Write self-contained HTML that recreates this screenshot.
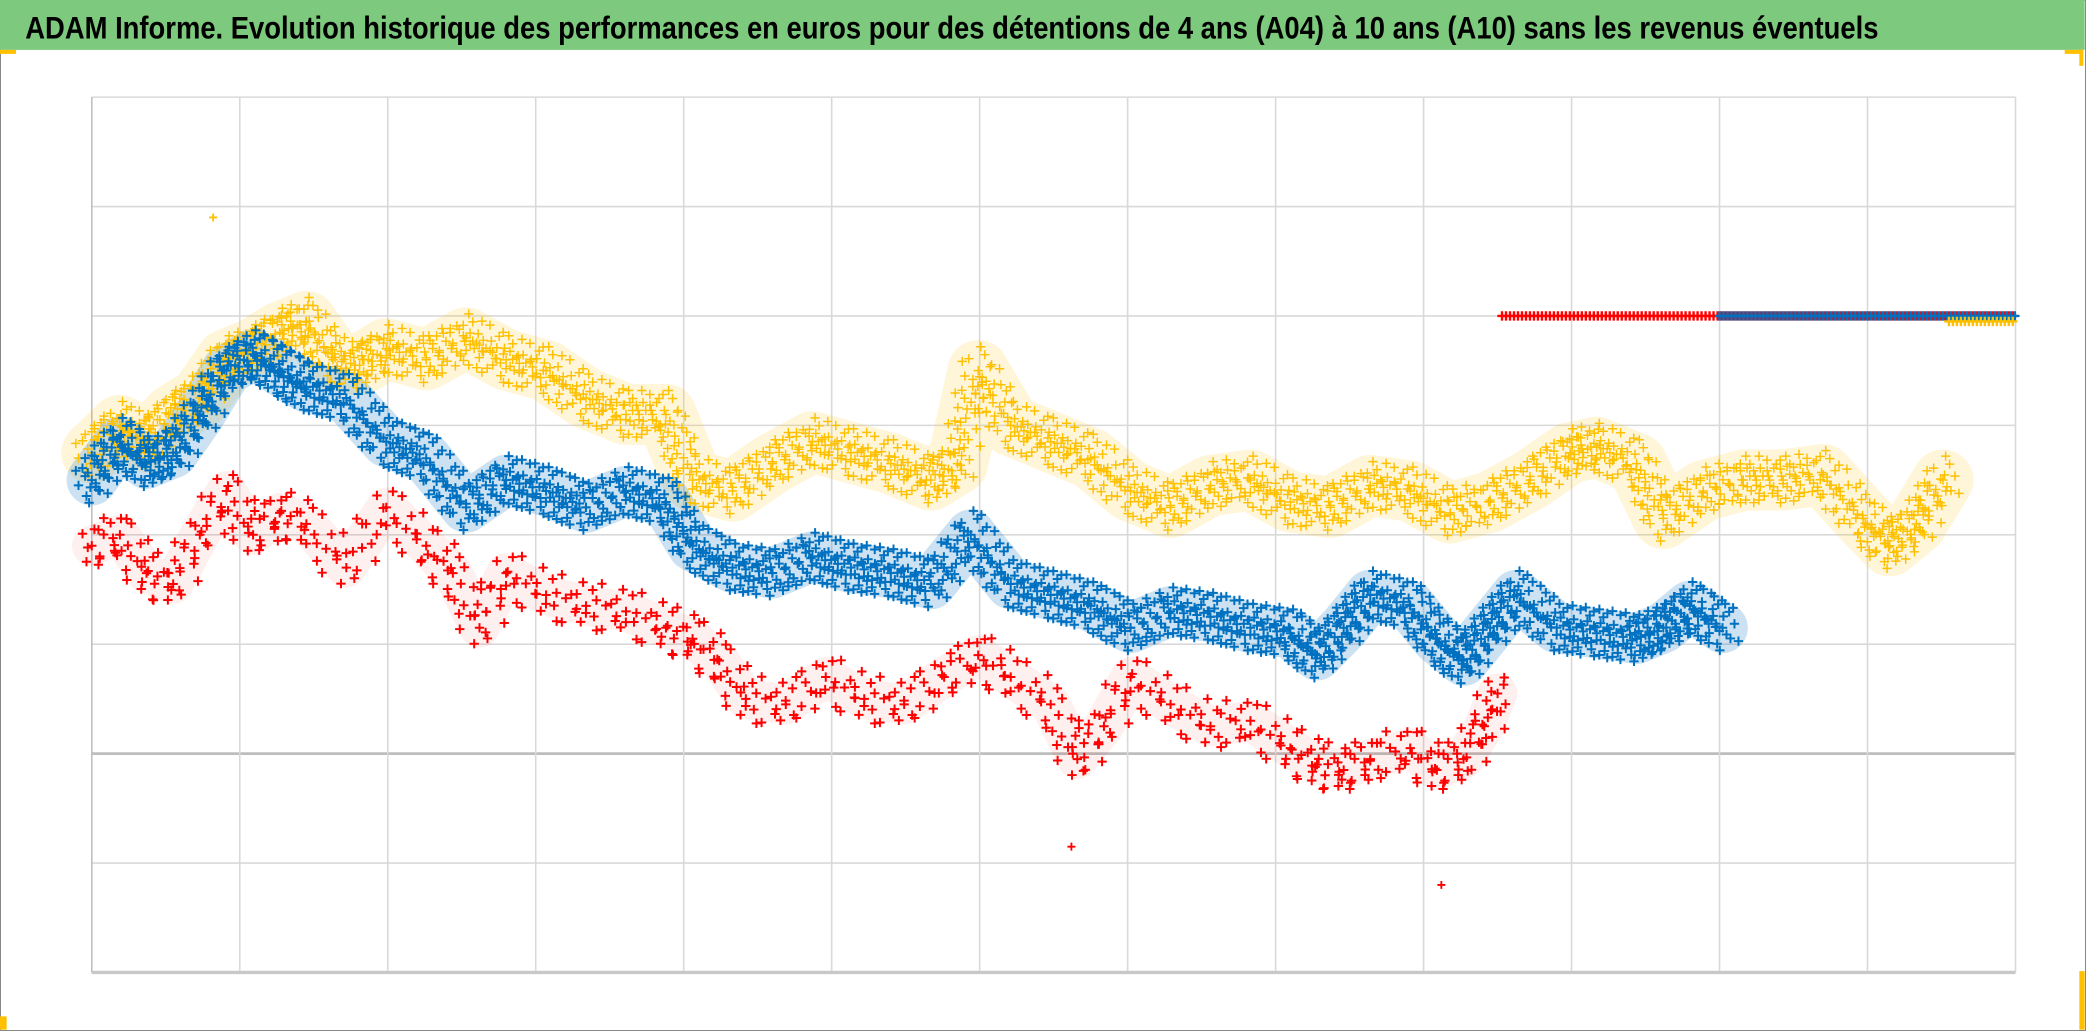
<!DOCTYPE html>
<html><head><meta charset="utf-8"><style>
html,body{margin:0;padding:0;background:#fff;}
svg{display:block;}
</style></head><body>
<svg id="chart" width="2086" height="1031" viewBox="0 0 1568 775" preserveAspectRatio="none" xmlns="http://www.w3.org/2000/svg">
<rect x="0" y="0" width="1568" height="775" fill="#fff" stroke="#888" stroke-width="1.5"/>
<rect x="0" y="0" width="1567" height="37.5" fill="#7dc97d"/>
<text x="19" y="29" font-family="'Liberation Sans Narrow','Liberation Sans',sans-serif" font-weight="bold" font-size="24" textLength="1393" lengthAdjust="spacingAndGlyphs" fill="#000">ADAM Informe. Evolution historique des performances en euros pour des détentions de 4 ans (A04) à 10 ans (A10) sans les revenus éventuels</text>
<rect x="0" y="37.5" width="12" height="3" fill="#ffc000"/>
<rect x="1552" y="37.5" width="14" height="3" fill="#ffc000"/>
<rect x="1563" y="37.5" width="3" height="12" fill="#ffc000"/>
<rect x="0" y="764" width="5" height="10" fill="#ffc000"/>
<rect x="1563" y="730" width="4" height="44" fill="#ffc000"/>
<g id="grid"></g>
<g id="bands"></g>
<g id="marks"></g>
</svg>
<script>
const yellowX=[0,.19,.37,.55,.73,.91,1.09,1.27,1.45,1.63,1.81,1.99,2.26,2.53,2.80,3.07,3.34,3.61,3.88,4.06,4.33,4.60,4.87,5.13,5.40,5.67,5.85,5.99,6.21,6.48,6.75,7.02,7.29,7.56,7.83,8.10,8.37,8.64,8.91,9.18,9.45,9.72,9.99,10.17,10.44,10.62,10.89,11.16,11.43,11.70,11.97,12.15,12.33,12.51];
const yellowY=[55,60,57,62,65,72,74,77,79,72,71,74,72,76,72,70,65,62,62,50,48,53,57,55,53,50,53,70,60,57,54,48,45,49,50,46,45,49,48,44,46,50,55,56,53,43,48,50,50,51,43,38,42,50];
const blueX=[0,.19,.37,.55,.73,.91,1.09,1.27,1.45,1.72,1.99,2.26,2.53,2.80,3.07,3.34,3.61,3.88,4.06,4.33,4.60,4.87,5.13,5.40,5.67,5.94,6.21,6.48,6.75,7.02,7.29,7.56,7.83,8.10,8.28,8.46,8.64,8.91,9.09,9.27,9.45,9.63,9.90,10.17,10.44,10.62,10.80,11.02];
const blueY=[50,57,53,55,62,70,73,70,67,65,57,54,45,50,48,45,48,46,38,34,33,36,34,33,31,40,31,29,27,23,26,25,23,22,18,23,29,27,21,17,23,29,23,22,21,23,27,23];
const redX=[0,.19,.37,.55,.73,.91,1.09,1.27,1.45,1.72,1.99,2.26,2.44,2.62,2.80,3.07,3.34,3.61,3.88,4.06,4.24,4.42,4.69,4.96,5.22,5.49,5.76,5.99,6.21,6.48,6.66,6.84,7.02,7.29,7.56,7.83,8.10,8.28,8.46,8.64,8.91,9.09,9.27,9.41,9.50];
const redY=[38,40,33,31,40,48,40,44,42,34,45,38,33,23,33,29,27,26,23,21,17,10,9,14,10,9,14,18,14,9,-1,5,14,9,5,6,1,-2,-3,-1,1,-3,-1,5,11];
const outlierX=[6.62,9.12,0.82];
const outlierY=[-17,-24,98];
const outlierSeries=['red','red','yellow'];
const capStart=[9.53,11.0,12.55];
const capValue=[80,80,79];
const capSeries=['red','blue','yellow'];

const NS='http://www.w3.org/2000/svg';
const X0=69,X1=1515,Y0=731,Y1=73;
const xMin=0,xMax=13,yMin=-40,yMax=120;
const sx=v=>X0+(v-xMin)/(xMax-xMin)*(X1-X0);
const sy=v=>Y0-(v-yMin)/(yMax-yMin)*(Y0-Y1);
const colors={yellow:'#ffc000',blue:'#0070c0',red:'#ff0000'};
function mk(tag,attrs,parent){const e=document.createElementNS(NS,tag);for(const k in attrs)e.setAttribute(k,attrs[k]);parent.appendChild(e);return e;}
const grid=document.getElementById('grid'),bands=document.getElementById('bands'),marks=document.getElementById('marks');
for(let v=yMin;v<=yMax;v+=20){const l=mk('line',{x1:X0,x2:X1,y1:sy(v),y2:sy(v),stroke:v===0?'#bdbdbd':'#d9d9d9','stroke-width':v===0?2:1.2},grid);

}
for(let v=xMin;v<=xMax;v++){const l=mk('line',{x1:sx(v),x2:sx(v),y1:Y1,y2:Y0,stroke:v===0?'#bfbfbf':'#d9d9d9','stroke-width':1.2},grid);

}
const ax=mk('line',{x1:X0,x2:X1,y1:Y0,y2:Y0,stroke:'#c8c8c8','stroke-width':2.5},grid);



const cluster=[[0,0],[-7,-9],[6,8],[-4,12],[5,-12],[-10,4],[9,-3],[2,-18],[-2,17],[12,10],[-12,-7],[3,5],[-5,-3],[8,-15],[-8,15]];
const steps=[0,0.33,0.66];
function series(name,xs,ys,bandW,bandOp,density,sw){
  const pts=xs.map((x,i)=>sx(x)+','+sy(ys[i])).join(' ');
  const b=mk('polyline',{points:pts,fill:'none',stroke:colors[name],'stroke-width':bandW,'stroke-opacity':bandOp,'stroke-linejoin':'round','stroke-linecap':'round'},bands);
  
  
  const g=mk('g',{stroke:colors[name],'stroke-width':sw},marks);
  
  
  xs.forEach((x,i)=>{
    steps.forEach((t,si)=>{
      if(t>0&&i===xs.length-1)return;
      const px=t?sx(x)+(sx(xs[i+1])-sx(x))*t:sx(x);
      const py=t?sy(ys[i])+(sy(ys[i+1])-sy(ys[i]))*t:sy(ys[i]);
      for(let k=0;k<density;k++){
        const c=cluster[(k+si*5)%cluster.length];
        const cx=px+c[0],cy=py+c[1];
        const p=mk('path',{d:`M${cx-3.5} ${cy}h7M${cx} ${cy-3.5}v7`},g);
        
        
      }
    });
  });
}
series('yellow',yellowX,yellowY,46,0.15,12,1.1);
series('blue',blueX,blueY,38,0.2,14,1.5);
series('red',redX,redY,30,0.06,5,1.5);
outlierX.forEach((x,i)=>{
  const cx=sx(x),cy=sy(outlierY[i]);
  const p=mk('path',{d:`M${cx-3} ${cy}h6M${cx} ${cy-3}v6`,stroke:colors[outlierSeries[i]],'stroke-width':1.4},marks);
  
  
});
capStart.forEach((s,i)=>{
  const g=mk('g',{stroke:colors[capSeries[i]],'stroke-width':1.8},marks);
  
  
  const cy=sy(capValue[i]);
  for(let cx=sx(s);cx<=X1;cx+=3){mk('path',{d:`M${cx-3.5} ${cy}h7M${cx} ${cy-3.5}v7`},g);}
});
</script>
</body></html>
